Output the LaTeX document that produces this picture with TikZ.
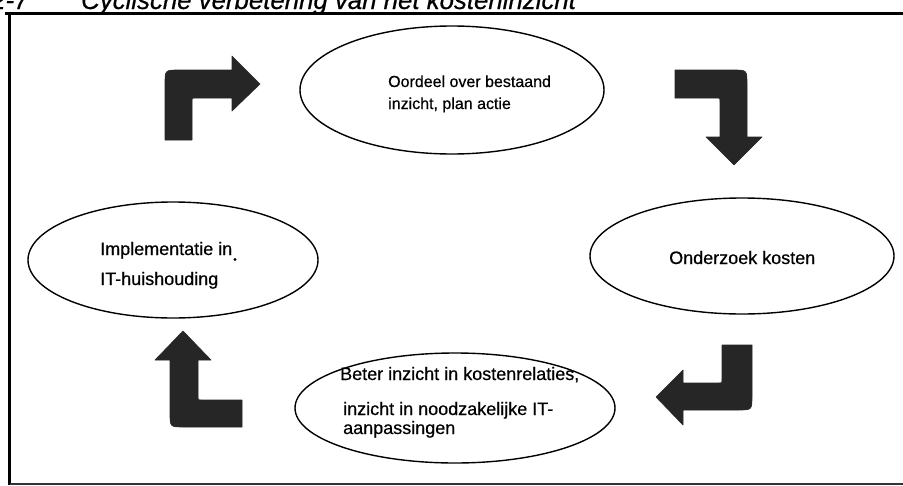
\documentclass[tikz,border=0pt]{standalone}
\usepackage{fontspec}
\setmainfont{Liberation Sans}[
  BoldFont={Liberation Sans},
  BoldItalicFont={Liberation Sans Italic},
  BoldFeatures={FakeBold=0.5},
  BoldItalicFeatures={FakeBold=0.6}]
\usetikzlibrary{shapes.geometric}
\tikzset{
  stage/.style={ellipse, draw=black, line width=1.4pt, inner sep=0pt},
  lbl/.style={anchor=base west, inner sep=0pt, font=\fontsize{18}{20}\selectfont\bfseries},
  lblsmall/.style={anchor=base west, inner sep=0pt, font=\fontsize{16}{18}\selectfont\bfseries},
  bentarrow/.style={fill=black!85, draw=black!85, line width=0.6pt, line join=round},
  frameline/.style={draw=black, line width=2.2pt},
  heading/.style={anchor=base west, inner sep=0pt, font=\fontsize{25.8}{28}\selectfont\bfseries\itshape}
}
\begin{document}
\begin{tikzpicture}[x=1pt, y=-1pt]
\useasboundingbox (0,0) rectangle (903,485);
\fill[white] (0,0) rectangle (903,485);

% heading (cut by the page edge) and frame
\begin{scope}
  \clip (0,0) rectangle (903,485);
  \node[heading] (num) at (-9,9) {2-7};
  \node[heading] (title) at (81,9) {Cyclische verbetering van het kosteninzicht};
\end{scope}
\coordinate (rulel) at (5,13.5);
\coordinate (ruler) at (903,13.5);
\coordinate (framet) at (9.5,13.5);
\coordinate (frameb) at (9.5,485);
\coordinate (basel) at (9.5,483.8);
\coordinate (baser) at (903,483.8);
\draw[frameline] (rulel) -- (ruler);
\draw[frameline, line width=2.6pt] (framet) -- (frameb);
\draw[draw=black!80, line width=1.6pt] (basel) -- (baser);

% stages of the cycle
\node[stage, minimum width=304pt, minimum height=128pt] (oordeel) at (452,90) {};
\node[stage, minimum width=304pt, minimum height=116pt] (onderzoek) at (742,256) {};
\node[stage, minimum width=320pt, minimum height=110pt] (inzicht) at (455,408) {};
\node[stage, minimum width=290pt, minimum height=116pt] (implementatie) at (173,260) {};

\node[lblsmall] (t1a) at (388,87) {Oordeel over bestaand};
\node[lblsmall] (t1b) at (388,109) {inzicht, plan actie};
\node[lbl] (t2) at (669,264) {Onderzoek kosten};
\node[lbl] (t3a) at (340,380) {Beter inzicht in kostenrelaties,};
\node[lbl] (t3b) at (343,415) {inzicht in noodzakelijke IT-};
\node[lbl] (t3c) at (343,434) {aanpassingen};
\node[lbl] (t4a) at (100,255) {Implementatie in};
\node[lbl] (t4b) at (100,285) {IT-huishouding};
\fill (235,259.5) circle (1.6pt);

% bent block arrows between the stages
\path[bentarrow] (165,140) -- (165,84) .. controls (165,70) .. (179,70)
  -- (232,70) -- (232,56) -- (260,84) -- (232,111) -- (232,98)
  -- (196,98) .. controls (192,98) .. (192,102) -- (192,140) -- cycle;
\path[bentarrow] (675,70) -- (733,70) .. controls (747,70) .. (747,84)
  -- (747,137) -- (762,137) -- (734,165) -- (706,137) -- (720,137)
  -- (720,102) .. controls (720,98) .. (716,98) -- (675,98) -- cycle;
\path[bentarrow] (722,345) -- (752,345) -- (752,396) .. controls (752,410) .. (738,410)
  -- (683,410) -- (683,425) -- (656,397) -- (683,370) -- (683,383)
  -- (718,383) .. controls (722,383) .. (722,379) -- cycle;
\path[bentarrow] (242,400) -- (242,427) -- (184,427) .. controls (170,427) .. (170,413)
  -- (170,360) -- (155,360) -- (183,331) -- (211,360) -- (198,360)
  -- (198,396) .. controls (198,400) .. (202,400) -- cycle;
\end{tikzpicture}
\end{document}
